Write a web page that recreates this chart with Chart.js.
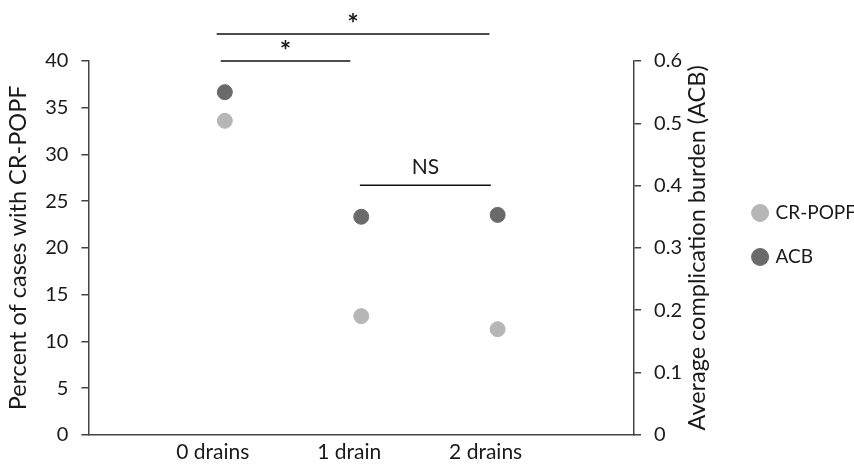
<!DOCTYPE html>
<html>
<head>
<meta charset="utf-8">
<script src="https://cdn.jsdelivr.net/npm/chart.js@4"></script>
<style>
  html, body { margin: 0; background: #fff; }
  #wrap { width: 854px; height: 470px; }
</style>
</head>
<body>
<div id="wrap"><canvas id="chart"></canvas></div>
<script>
// Data
const categories = ['0 drains', '1 drain', '2 drains'];
const crPopf = [33.6, 12.7, 11.3];      // percent of cases, left axis
const acb = [0.55, 0.35, 0.353];        // average complication burden, right axis

// Significance brackets, in data units (x = category index, level = left axis value)
const brackets = [
  { from: -0.06, to: 1.94, level: 42.9, text: '*' },
  { from: -0.03, to: 0.92, level: 40, text: '*' },
  { from: 0.99, to: 1.95, level: 26.7, text: 'NS' }
];

const FONT = 'Lato, "Open Sans", sans-serif';
const TEXT = '#1a1a1a';
const AXIS = '#444';

// Brackets plus the right-hand axis title (reads bottom to top like the left one)
const annotations = {
  id: 'annotations',
  afterLayout(chart) {
    // centre the legend on the whole canvas, not on the padded area
    const lg = chart.legend;
    const h = lg.bottom - lg.top;
    lg.top = (chart.height - h) / 2;
    lg.bottom = lg.top + h;
    lg.left += 12;
    lg.right += 12;
  },
  afterDraw(chart) {
    const { ctx, scales } = chart;
    const x = scales.x, y = scales.y, y1 = scales.y1;
    ctx.save();
    ctx.strokeStyle = '#111';
    ctx.fillStyle = TEXT;
    ctx.lineWidth = 1.5;
    ctx.textAlign = 'center';
    ctx.textBaseline = 'bottom';
    brackets.forEach(b => {
      const x0 = x.getPixelForValue(b.from);
      const x1 = x.getPixelForValue(b.to);
      const py = y.getPixelForValue(b.level);
      ctx.beginPath();
      ctx.moveTo(x0, py);
      ctx.lineTo(x1, py);
      ctx.stroke();
      if (b.text === '*') {
        ctx.font = 'bold 27px ' + FONT;
        ctx.fillText(b.text, (x0 + x1) / 2, py + 4);
      } else {
        ctx.font = '21px ' + FONT;
        ctx.fillText(b.text, (x0 + x1) / 2, py - 8);
      }
    });

    // right axis title
    ctx.translate(y1.left + 63, (chart.chartArea.top + chart.chartArea.bottom) / 2);
    ctx.rotate(-Math.PI / 2);
    ctx.font = '23.5px ' + FONT;
    ctx.textBaseline = 'middle';
    ctx.fillText('Average complication burden (ACB)', 0, 0);
    ctx.restore();
  }
};

new Chart(document.getElementById('chart'), {
  type: 'scatter',
  data: {
    datasets: [
      {
        label: 'CR-POPF',
        data: crPopf.map((v, i) => ({ x: i, y: v })),
        yAxisID: 'y',
        backgroundColor: '#b6b6b6',
        borderColor: '#b6b6b6',
        pointRadius: 7.5,
        pointHoverRadius: 7.5
      },
      {
        label: 'ACB',
        data: acb.map((v, i) => ({ x: i, y: v })),
        yAxisID: 'y1',
        backgroundColor: '#6a6a6a',
        borderColor: '#6a6a6a',
        pointRadius: 7.5,
        pointHoverRadius: 7.5
      }
    ]
  },
  options: {
    responsive: true,
    maintainAspectRatio: false,
    animation: false,
    layout: {
      padding: { top: 61, left: 0, right: 0, bottom: 0 }
    },
    plugins: {
      tooltip: { enabled: false },
      legend: {
        position: 'right',
        labels: {
          usePointStyle: true,
          pointStyle: 'circle',
          boxWidth: 12,
          boxHeight: 12,
          padding: 25,
          color: TEXT,
          font: { size: 19, family: FONT }
        }
      }
    },
    scales: {
      x: {
        type: 'linear',
        min: -1,
        max: 3,
        border: { display: true, color: AXIS, width: 1.5 },
        grid: { display: false, drawTicks: false, tickLength: 0 },
        afterBuildTicks: scale => {
          scale.ticks = categories.map((c, i) => ({ value: i }));
        },
        ticks: {
          color: TEXT,
          font: { size: 21, family: FONT },
          padding: 5,
          labelOffset: -12,
          callback: v => categories[v] ?? ''
        }
      },
      y: {
        position: 'left',
        min: 0,
        max: 40,
        border: { display: true, color: AXIS, width: 1.5 },
        grid: { drawOnChartArea: false, color: AXIS, tickLength: 7, lineWidth: 1.5 },
        ticks: {
          stepSize: 5,
          color: TEXT,
          padding: 13,
          font: { size: 20, family: FONT }
        },
        title: {
          display: true,
          text: 'Percent of cases with CR-POPF',
          color: TEXT,
          padding: { top: 4, bottom: 0 },
          font: { size: 23.5, family: FONT }
        }
      },
      y1: {
        position: 'right',
        min: 0,
        max: 0.6,
        border: { display: true, color: AXIS, width: 1.5 },
        grid: { drawOnChartArea: false, color: AXIS, tickLength: 7, lineWidth: 1.5 },
        ticks: {
          stepSize: 0.1,
          color: TEXT,
          padding: 13,
          font: { size: 20, family: FONT },
          callback: v => String(+v.toFixed(1))
        },
        afterFit: scale => { scale.width = 83; }
      }
    }
  },
  plugins: [annotations]
});
</script>
</body>
</html>
